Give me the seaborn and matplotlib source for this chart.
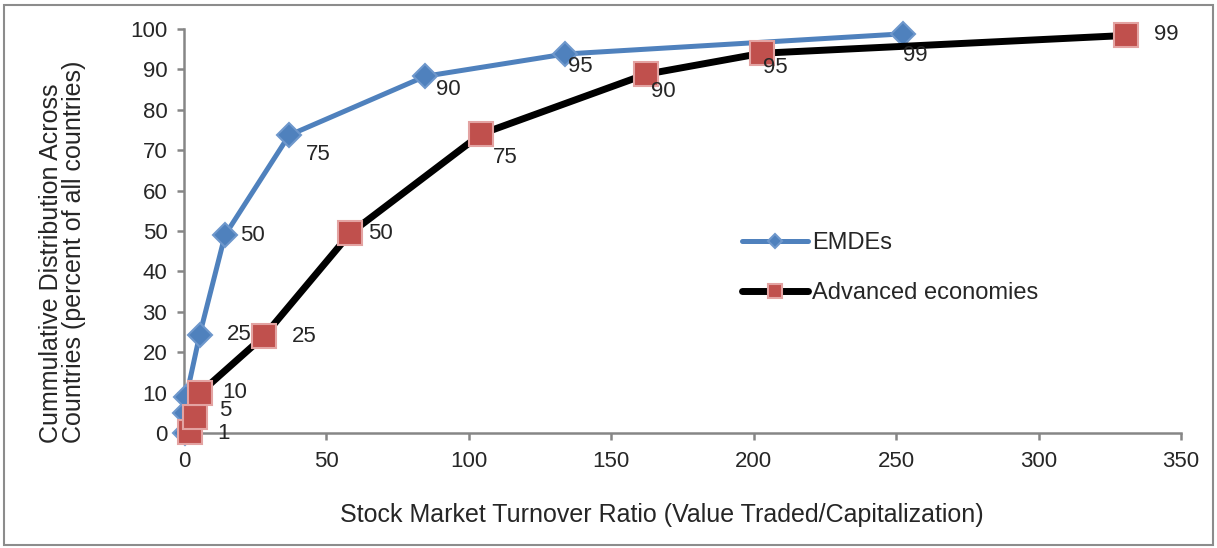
import numpy as np
import matplotlib
matplotlib.use("Agg")
import matplotlib.pyplot as plt
import seaborn as sns
from matplotlib.patches import Rectangle

# percentiles of the cross-country distribution
emde_pct = [1, 5, 10, 25, 50, 75, 90, 95, 99]
emde_turnover = [0.2, 0.5, 0.8, 5.5, 14.4, 36.9, 84.7, 133.7, 252.4]
emde_cum = [0, 5, 9, 24.3, 49, 73.7, 88.3, 93.8, 98.8]

adv_pct = [1, 5, 10, 25, 50, 75, 90, 95, 99]
adv_turnover = [2.1, 3.9, 5.6, 28.1, 58.3, 104.3, 162.2, 202.9, 330.6]
adv_cum = [0.2, 4, 9.9, 24, 49.4, 74, 88.8, 94, 98.4]

# label offsets in pixels (right, down) - Excel moved some of them around
emde_off = [None, None, None, (40, 0), (27, 0), (29, 19), (23, 13), (15, 12), (12, 22)]
adv_off = [(34, 1), (30, -6), (35, 0), (40, 0), (30, 0), (24, 23), (17, 17), (13, 14), (41, -1)]

sns.set_style("white")
plt.rcParams['font.family'] = ['Liberation Sans', 'DejaVu Sans']
plt.rcParams['font.size'] = 16

fig = plt.figure(figsize=(12.17, 5.48), dpi=100)
ax = fig.add_axes([0.1512, 0.2099, 0.8192, 0.7372])

sns.lineplot(x=emde_turnover, y=emde_cum, ax=ax, color='#4F81BD', linewidth=3.6,
             marker='D', markersize=12, markeredgecolor='#6E97CC', markeredgewidth=1.5,
             label='EMDEs', clip_on=False, zorder=3)
sns.lineplot(x=adv_turnover, y=adv_cum, ax=ax, color='black', linewidth=5,
             marker='s', markersize=17, markerfacecolor='#C0504D', markeredgecolor='#E3A3A2',
             markeredgewidth=1.5, label='Advanced economies', clip_on=False, zorder=4)

for xs, ys, labs, offs in [(emde_turnover, emde_cum, emde_pct, emde_off),
                           (adv_turnover, adv_cum, adv_pct, adv_off)]:
    for x, y, lab, off in zip(xs, ys, labs, offs):
        if off is None:
            continue  # hidden under the red squares
        dx, dy = off
        ax.annotate(str(lab), (x, y), xytext=(dx * 0.72, -dy * 0.72), textcoords='offset points',
                    ha='center', va='center', fontsize=16, zorder=6, annotation_clip=False)

ax.set_xlim(0, 350)
ax.set_ylim(0, 100)
ax.set_xticks(np.arange(0, 351, 50))
ax.set_yticks(np.arange(0, 101, 10))
for s in ['top', 'right']:
    ax.spines[s].set_visible(False)
for s in ['left', 'bottom']:
    ax.spines[s].set_color('#868686')
    ax.spines[s].set_linewidth(1.8)
ax.tick_params(axis='both', direction='out', length=5, width=1.8, color='#868686',
               labelsize=16, left=True, bottom=True)
ax.tick_params(axis='x', pad=8)
ax.tick_params(axis='y', pad=7)

ax.set_xlabel('Stock Market Turnover Ratio (Value Traded/Capitalization)', fontsize=18)
ax.xaxis.label.set_va('center')
ax.xaxis.set_label_coords(0.479, -0.203)
ax.set_ylabel('Cummulative Distribution Across\nCountries (percent of all countries)', fontsize=18,
              linespacing=0.95, multialignment='left')
ax.yaxis.label.set_va('center')
ax.yaxis.set_label_coords(-0.122, 0.449)

leg = ax.legend(loc='center left', bbox_to_anchor=(0.5597, 0.408), frameon=False, fontsize=17,
                handlelength=2.8, labelspacing=1.2, handletextpad=0.17, borderaxespad=0,
                borderpad=0, markerscale=0.6)

fig.patches.append(Rectangle((0.003, 0.006), 0.994, 0.985, transform=fig.transFigure,
                             fill=False, edgecolor='#8C8C8C', linewidth=1.5))

fig.savefig('out.png', dpi=100)
